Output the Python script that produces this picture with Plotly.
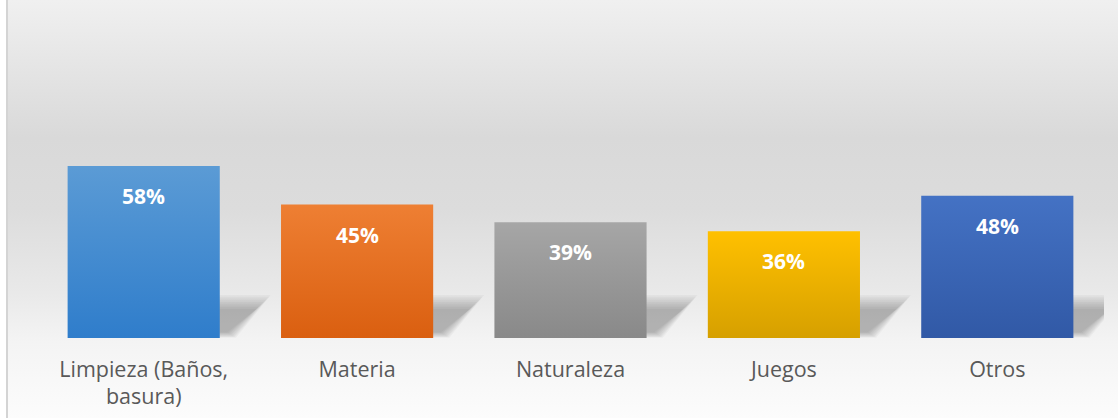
import base64
import json
import plotly.graph_objects as go

# ---- data ----
categories = ["Limpieza (Baños,<br>basura)", "Materia", "Naturaleza", "Juegos", "Otros"]
values = [58, 45, 39, 36, 48]
value_labels = ["58%", "45%", "39%", "36%", "48%"]

# ---- styles ----
top_colors = ["#5B9BD5", "#EE7F33", "#A6A6A6", "#FFC000", "#4472C4"]
bottom_colors = ["#2F7DCB", "#DA5F10", "#898989", "#D6A000", "#3159A6"]
mid_colors = ["#4A8DD1", "#E66F22", "#999999", "#EBB000", "#3B66B5"]

W, H = 1118, 418
ML, MR, MT, MB = 37, 14, 40, 80
PW, PH = W - ML - MR, H - MT - MB
FONT = "'Open Sans', Lato, sans-serif"

bg_stops = [(0.0, "#f0f0f0"), (0.33, "#d9d9d9"), (0.5, "#dcdcdc"),
            (0.7, "#e9e9e9"), (0.82, "#f4f4f4"), (1.0, "#fcfcfc")]
stops = "".join(f'<stop offset="{o}" stop-color="{c}"/>' for o, c in bg_stops)
bg_svg = (f'<svg xmlns="http://www.w3.org/2000/svg" width="{W-8}" height="{H}" '
          f'preserveAspectRatio="none"><defs><linearGradient id="g" x1="0" y1="0" x2="0" y2="1">'
          f'{stops}</linearGradient></defs><rect width="100%" height="100%" fill="url(#g)"/></svg>')
bg_src = "data:image/svg+xml;base64," + base64.b64encode(bg_svg.encode()).decode()

fig = go.Figure()
fig.add_trace(go.Bar(
    x=categories, y=values,
    marker=dict(color=mid_colors, line=dict(width=0)),
    hoverinfo="skip",
))

for c, v, t in zip(categories, values, value_labels):
    fig.add_annotation(x=c, y=v, text=f"<b>{t}</b>", showarrow=False,
                       yanchor="middle", yshift=-30,
                       font=dict(family=FONT, size=21, color="white"))

fig.add_layout_image(dict(
    source=bg_src, xref="paper", yref="paper",
    x=(8 - ML) / PW, y=1 + MT / PH, sizex=(W - 8) / PW, sizey=H / PH,
    xanchor="left", yanchor="top", sizing="stretch", layer="below",
))
fig.add_shape(type="line", xref="paper", yref="paper",
              x0=(7 - ML) / PW, x1=(7 - ML) / PW, y0=-MB / PH, y1=1 + MT / PH,
              line=dict(color="#d4d4d4", width=2))

fig.update_layout(
    width=W, height=H,
    margin=dict(l=ML, r=MR, t=MT, b=MB, autoexpand=False),
    paper_bgcolor="white", plot_bgcolor="rgba(0,0,0,0)",
    bargap=0.287, showlegend=False,
    font=dict(family=FONT),
)
fig.update_xaxes(showgrid=False, zeroline=False, showline=False, ticks="",
                 automargin=False, ticklabelstandoff=16,
                 tickfont=dict(family=FONT, size=21.5, color="#595959"))
fig.update_yaxes(range=[0, 100.5], visible=False, showgrid=False, zeroline=False)

post = """
document.body.style.margin='0';
var gd=document.getElementById('{plot_id}');
var NS='http://www.w3.org/2000/svg';
var defs=gd.querySelector('svg.main-svg defs');
var tops=TOPS, bots=BOTS;
function el(n,a){var e=document.createElementNS(NS,n);for(var k in a)e.setAttribute(k,a[k]);return e;}
var paths=gd.querySelectorAll('.barlayer .point path');
paths.forEach(function(p,i){
  var g=el('linearGradient',{id:'bargrad'+i,x1:'0',y1:'0',x2:'0',y2:'1'});
  g.appendChild(el('stop',{offset:'0','stop-color':tops[i]}));
  g.appendChild(el('stop',{offset:'1','stop-color':bots[i]}));
  defs.appendChild(g);
  p.style.fill='url(#bargrad'+i+')';
  var b=p.getBBox(); var R=b.x+b.width, B=b.y+b.height;
  var pts=p.parentNode.parentNode;
  for(var d=-7; d<=7; d+=1.75){
    var x0=R-4, yt=B-36-d, xr=R+44+d, xb=R+12+d*0.6, yb=B-3+d*0.4;
    var s=el('path',{d:'M'+x0+','+yt+'L'+xr+','+yt+'L'+xb+','+yb+'L'+x0+','+yb+'Z',
      fill:'rgba(0,0,0,0.03)'});
    pts.insertBefore(s, pts.firstChild);
  }
});
""".replace("TOPS", json.dumps(top_colors)).replace("BOTS", json.dumps(bottom_colors))

fig.write_html("out.html", post_script=post, config={"displayModeBar": False})
